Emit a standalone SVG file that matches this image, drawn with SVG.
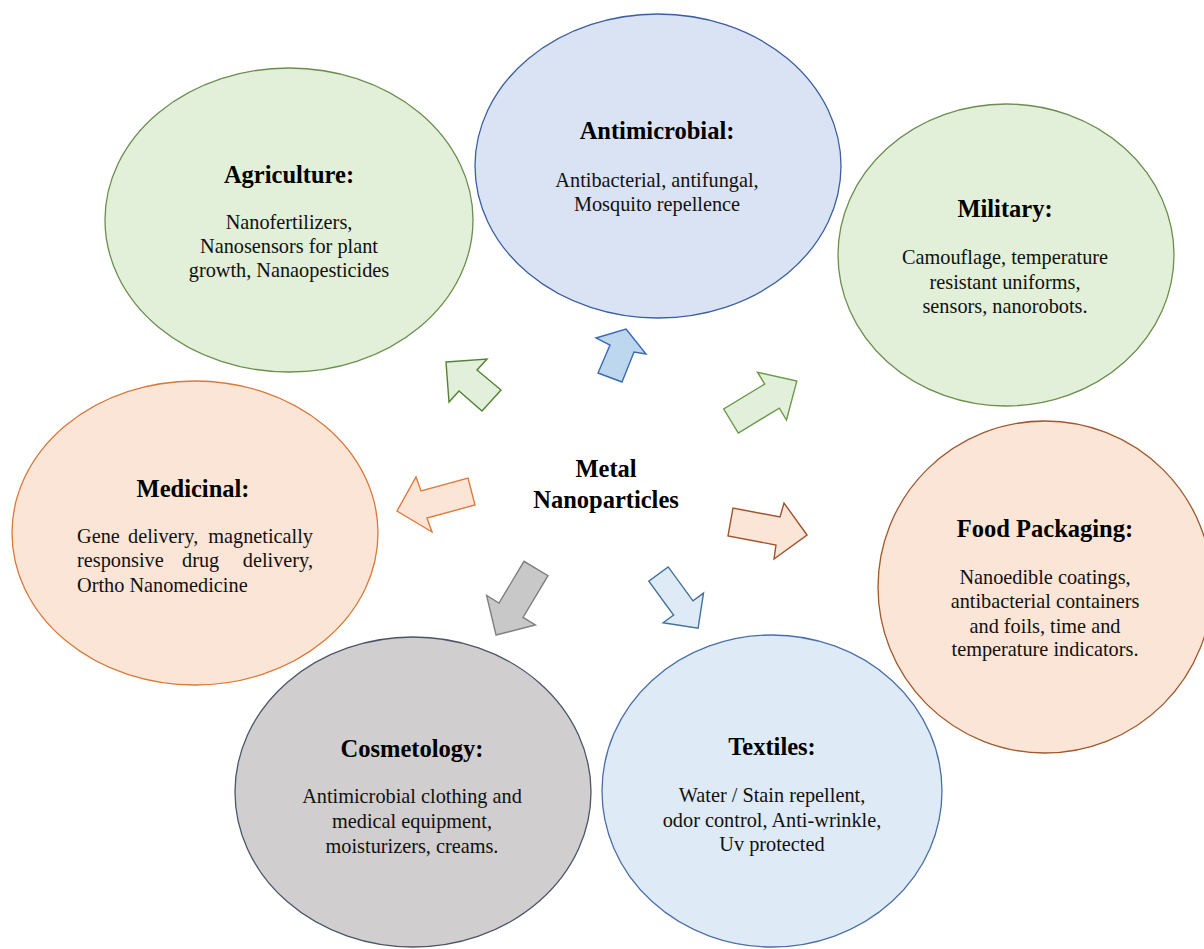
<svg xmlns="http://www.w3.org/2000/svg" width="1204" height="949" viewBox="0 0 1204 949">
  <style>
    .title { font-family: "Liberation Serif", "Times New Roman", serif; font-weight: bold; font-size: 24.5px; fill: #000; text-anchor: middle; }
    .body { font-family: "Liberation Serif", "Times New Roman", serif; font-size: 20.3px; fill: #111; text-anchor: middle; }
    .body.start { text-anchor: start; }
    .body.end { text-anchor: end; }
    .center { font-family: "Liberation Serif", "Times New Roman", serif; font-weight: bold; font-size: 24.5px; fill: #000; text-anchor: middle; }
    .node ellipse { stroke-width: 1.3; }
    .green { fill: #e2efd9; stroke: #6b8e4e; }
    .blue { fill: #dae3f3; stroke: #3b5fa0; }
    .lightblue { fill: #deebf7; stroke: #4a6fa8; }
    .peach { fill: #fbe5d6; stroke: #d9793a; }
    .peachbrown { fill: #fbe5d6; stroke: #a0582c; }
    .grey { fill: #d0cece; stroke: #4a5568; }
    .arrow { stroke-width: 1.4; stroke-linejoin: miter; }
  </style>
  <rect width="1204" height="949" fill="#ffffff"/>

  <!-- application nodes -->
  <g id="agriculture" class="node">
    <ellipse class="green" cx="289" cy="220" rx="184" ry="152"/>
    <text class="title" x="289" y="183">Agriculture:</text>
    <text class="body" x="289" y="229">Nanofertilizers,</text>
    <text class="body" x="289" y="253">Nanosensors for plant</text>
    <text class="body" x="289" y="277">growth, Nanaopesticides</text>
  </g>

  <g id="antimicrobial" class="node">
    <ellipse class="blue" cx="658" cy="166" rx="183" ry="152"/>
    <text class="title" x="657" y="139">Antimicrobial:</text>
    <text class="body" x="657" y="187">Antibacterial, antifungal,</text>
    <text class="body" x="657" y="211">Mosquito repellence</text>
  </g>

  <g id="military" class="node">
    <ellipse class="green" cx="1006" cy="255" rx="168" ry="151"/>
    <text class="title" x="1005" y="217">Military:</text>
    <text class="body" x="1005" y="264">Camouflage, temperature</text>
    <text class="body" x="1005" y="289">resistant uniforms,</text>
    <text class="body" x="1005" y="313">sensors, nanorobots.</text>
  </g>

  <g id="medicinal" class="node">
    <ellipse class="peach" cx="195" cy="533" rx="183" ry="152"/>
    <text class="title" x="193" y="497">Medicinal:</text>
    <!-- justified paragraph: words placed individually -->
    <text class="body start" x="77" y="543">Gene</text>
    <text class="body start" x="128" y="543">delivery,</text>
    <text class="body end" x="313" y="543">magnetically</text>
    <text class="body start" x="77" y="567">responsive</text>
    <text class="body start" x="182" y="567">drug</text>
    <text class="body end" x="313" y="567">delivery,</text>
    <text class="body start" x="77" y="592">Ortho Nanomedicine</text>
  </g>

  <g id="food-packaging" class="node">
    <ellipse class="peachbrown" cx="1045" cy="587" rx="167" ry="166"/>
    <text class="title" x="1045" y="537">Food Packaging:</text>
    <text class="body" x="1045" y="584">Nanoedible coatings,</text>
    <text class="body" x="1045" y="608">antibacterial containers</text>
    <text class="body" x="1045" y="633">and foils, time and</text>
    <text class="body" x="1045" y="656">temperature indicators.</text>
  </g>

  <g id="cosmetology" class="node">
    <ellipse class="grey" cx="413" cy="792" rx="178" ry="155"/>
    <text class="title" x="412" y="757">Cosmetology:</text>
    <text class="body" x="412" y="803">Antimicrobial clothing and</text>
    <text class="body" x="412" y="828">medical equipment,</text>
    <text class="body" x="412" y="853">moisturizers, creams.</text>
  </g>

  <g id="textiles" class="node">
    <ellipse class="lightblue" cx="772" cy="791" rx="170" ry="156"/>
    <text class="title" x="772" y="755">Textiles:</text>
    <text class="body" x="772" y="802">Water / Stain repellent,</text>
    <text class="body" x="772" y="827">odor control, Anti-wrinkle,</text>
    <text class="body" x="772" y="851">Uv protected</text>
  </g>

  <!-- central label -->
  <g id="metal-nanoparticles">
    <text class="center" x="606" y="477">Metal</text>
    <text class="center" x="606" y="508">Nanoparticles</text>
  </g>

  <!-- block arrows radiating from the centre -->
  <g id="connectors">
    <polygon class="arrow" fill="#e2efda" stroke="#548235"
      points="446,362 487,359 477,370 501,390 482,411 459,391 449,402"/>
    <polygon class="arrow" fill="#bdd7ee" stroke="#3a6ab0"
      points="626,329 646,354 634,352 622,382 598,373 610,345 596,338"/>
    <polygon class="arrow" fill="#e2efda" stroke="#6a9a4a"
      points="796.8,381.1 786.5,420 779.3,408.1 738.3,433 723.7,409 764.7,384.1 757.5,372.2"/>
    <polygon class="arrow" fill="#fbe5d6" stroke="#e07b39"
      points="397,511 416,477 421,491 468,478 475,505 427,518 432,532"/>
    <polygon class="arrow" fill="#fbe5d6" stroke="#a0522d"
      points="807,535 784,503 780,517 733,508 728,536 776,545 774,559"/>
    <polygon class="arrow" fill="#c8c8c8" stroke="#7f7f7f"
      points="496,635 535.4,624.9 523,617.4 548,575.7 524,561.3 499,603 486.6,595.5"/>
    <polygon class="arrow" fill="#deebf7" stroke="#41719c"
      points="698.1,628.1 703.5,593.1 693,600.8 668.2,566.9 648.8,581.1 673.6,615 663.1,622.7"/>
  </g>
</svg>
